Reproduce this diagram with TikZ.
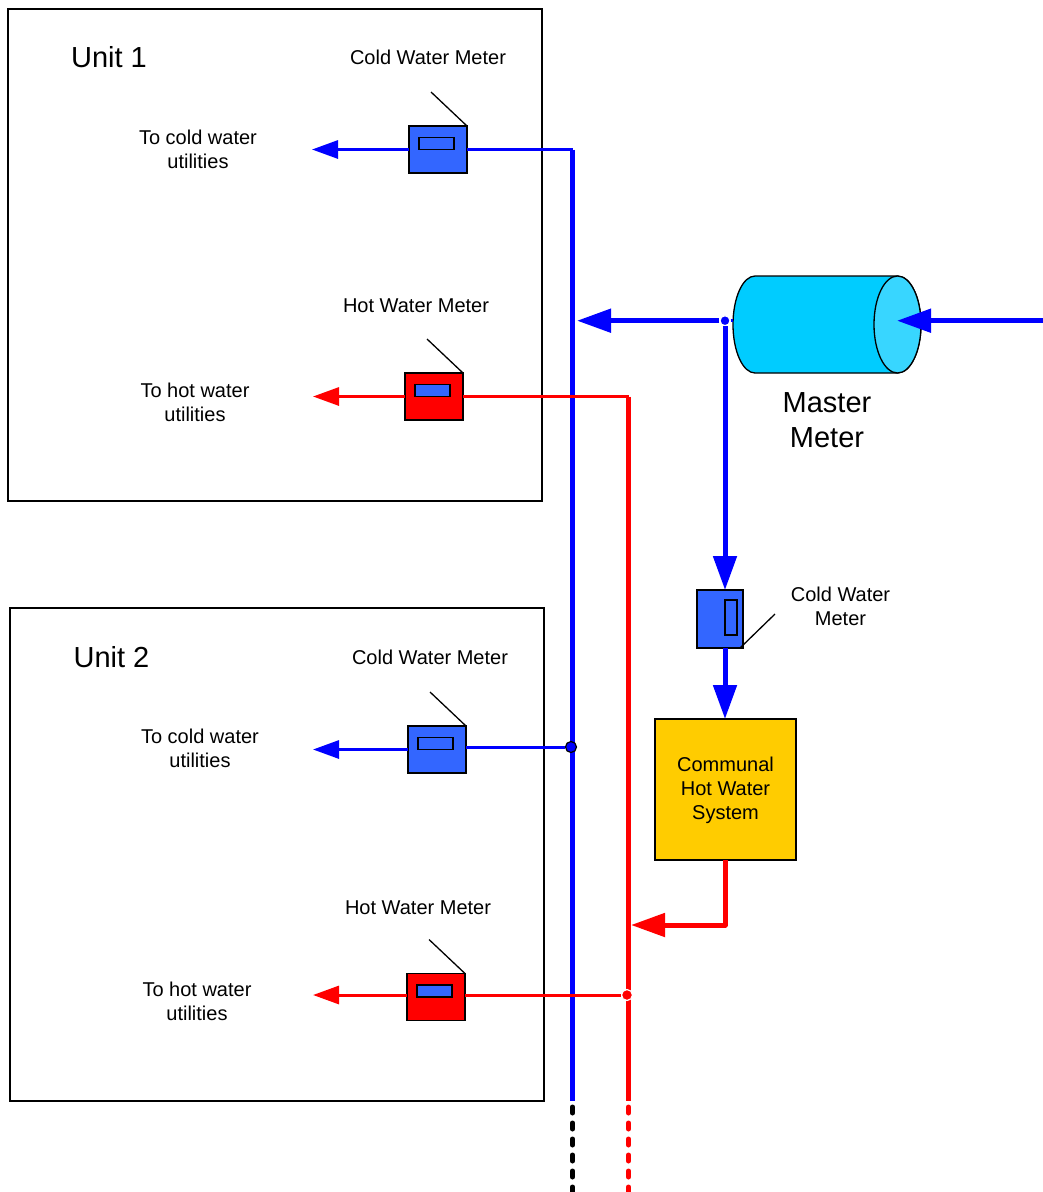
\documentclass[tikz,border=0pt]{standalone}
\usepackage{fontspec}
\setmainfont{Liberation Sans}
\usetikzlibrary{arrows.meta,shapes.geometric}
\definecolor{coldline}{HTML}{0000FF}
\definecolor{hotline}{HTML}{FF0000}
\definecolor{meterblue}{HTML}{3366FF}
\definecolor{mastercyan}{HTML}{00CCFF}
\definecolor{masterend}{HTML}{38D6FF}
\definecolor{sysyellow}{HTML}{FFCC00}
\tikzset{
  unitbox/.style={draw=black, line width=1.3pt, minimum width=534pt, minimum height=#1, outer sep=0pt, inner sep=0pt},
  meter/.style={draw=black, line width=1.3pt, minimum width=58pt, minimum height=47pt, outer sep=0pt, inner sep=0pt},
  dial/.style={draw=black, line width=1.3pt, fill=meterblue, minimum width=35pt, minimum height=12pt, outer sep=0pt, inner sep=0pt},
  lbl/.style={align=center, inner sep=0pt, font=\fontsize{20}{24}\selectfont},
  biglbl/.style={align=center, inner sep=0pt, font=\fontsize{29}{35.5}\selectfont},
  feeler/.style={draw=black, line width=1.3pt},
  % ---- water lines ----
  thincold/.style={draw=coldline, line width=3pt, line join=round},
  thinhot/.style={draw=hotline, line width=3pt, line join=round},
  maincold/.style={draw=coldline, line width=5pt, line join=round},
  mainhot/.style={draw=hotline, line width=5pt, line join=round},
  outcold/.style={thincold, -{Triangle[length=26pt,width=18pt]}},
  outhot/.style={thinhot, -{Triangle[length=26pt,width=18pt]}},
  feedcold/.style={maincold, -{Triangle[length=34pt,width=23pt]}},
  feedhot/.style={mainhot, -{Triangle[length=34pt,width=23pt]}},
  contline/.style={line width=5pt, line cap=round, dash pattern=on 6pt off 10pt},
  tapwhite/.style={circle, fill=#1, draw=white, line width=1.2pt, minimum size=11pt, inner sep=0pt},
  tapblack/.style={circle, fill=coldline, draw=black, line width=1.2pt, minimum size=11pt, inner sep=0pt},
  masterbody/.style={draw=black, line width=1.3pt, fill=mastercyan},
  masterface/.style={ellipse, draw=black, line width=1.3pt, fill=masterend, minimum width=47pt, minimum height=97pt, inner sep=0pt, outer sep=0pt},
}
\begin{document}
\begin{tikzpicture}[x=1pt,y=-1pt]
\useasboundingbox (0,0) rectangle (1043,1192);
  % units
  \node[unitbox=492pt] (unita) at (275,255) {};
  \node[unitbox=493pt] (unitb) at (277,854.5) {};
  \node[biglbl] (unitatxt) at (109,57) {Unit 1};
  \node[biglbl] (unitbtxt) at (111.5,657) {Unit 2};
  % meters in the units
  \foreach \nm/\x/\y/\c in {cwa/438/149.5/meterblue, hwa/434/396.5/hotline, cwb/437/749.5/meterblue, hwb/436/997/hotline}{
    \node[meter, fill=\c] (\nm) at (\x,\y) {};
    \node[dial] (\nm dial) at (\x-1.5,\y-6) {};
    \coordinate (\nm tip) at (\x-7,\y-57.5);
    \draw[feeler] (\nm.north east) -- (\nm tip);
  }
  \node[lbl] (cwatxt) at (428,57) {Cold Water Meter};
  \node[lbl] (hwatxt) at (416,306) {Hot Water Meter};
  \node[lbl] (cwbtxt) at (430,657) {Cold Water Meter};
  \node[lbl] (hwbtxt) at (418,908) {Hot Water Meter};
  \node[lbl] (toca) at (198,149) {To cold water\\utilities};
  \node[lbl] (toha) at (195,402) {To hot water\\utilities};
  \node[lbl] (tocb) at (200,748) {To cold water\\utilities};
  \node[lbl] (tohb) at (197,1001) {To hot water\\utilities};
  % risers
  \coordinate (coldtop) at (572.5,149.5);
  \coordinate (coldbot) at (572.5,1101);
  \coordinate (hottop) at (628.5,396.5);
  \coordinate (hotbot) at (628.5,1101);
  \coordinate (coldend) at (572.5,1107);
  \coordinate (coldout) at (572.5,1192);
  \coordinate (hotend) at (628.5,1107);
  \coordinate (hotout) at (628.5,1192);
  \draw[maincold] (coldtop) -- (coldbot);
  \draw[mainhot] (hottop) -- (hotbot);
  \draw[contline, draw=black] (coldend) -- (coldout);
  \draw[contline, draw=hotline] (hotend) -- (hotout);
  % branches
  \coordinate (outca) at (312,149.5);
  \coordinate (outha) at (313,396.5);
  \coordinate (outcb) at (313,749.5);
  \coordinate (outhb) at (313,995);
  \draw[thincold] (cwa.east) -- (coldtop);
  \draw[outcold] (cwa.west) -- (outca);
  \draw[thinhot] (hwa.east) -- (hottop);
  \draw[outhot] (hwa.west) -- (outha);
  \draw[outcold] (cwb.west) -- (outcb);
  \draw[outhot] (hwb.west |- outhb) -- (outhb);
  \node[tapblack] (tapc) at (571,747) {};
  \node[tapwhite=hotline] (taph) at (627,995) {};
  \draw[thincold] (cwb.east |- tapc) -- (tapc);
  \draw[thinhot] (hwb.east |- taph) -- (taph);
  % master meter
  \draw[masterbody] (755,276) -- (897.5,276) arc (90:-90:23.5pt and 48.5pt) -- (755,373) arc (270:90:22pt and 48.5pt) -- cycle;
  \node[masterface] (master) at (897.5,324.5) {};
  \node[biglbl] (mastertxt) at (827,420) {Master\\Meter};
  \coordinate (masterleft) at (733,320.7);
  \coordinate (inlet) at (1043,320.7);
  \coordinate (inletTip) at (897,320.7);
  \node[tapwhite=coldline, minimum size=10pt] (tapm) at (725,320.7) {};
  \coordinate (coldfeed) at (577,320.7);
  \draw[feedcold] (inlet) -- (inletTip);
  \draw[feedcold] (tapm) -- (coldfeed);
  \draw[thincold] (tapm) -- (masterleft);
  % communal system
  \node[meter, fill=meterblue, minimum width=46pt, minimum height=58pt] (cwc) at (720,619) {};
  \node[dial, minimum width=12pt, minimum height=35pt] (cwcdial) at (731,617.5) {};
  \coordinate (cwctip) at (775,614);
  \draw[feeler] ([xshift=-3pt]cwc.south east) -- (cwctip);
  \node[lbl] (cwctxt) at (840.5,606) {Cold Water\\Meter};
  \node[draw=black, line width=1.3pt, fill=sysyellow, minimum size=141pt, lbl, outer sep=0pt] (sys) at (725.5,789.5) {};
  \node[lbl] (systxt) at (725.5,790) {Communal\\Hot Water\\System};
  \coordinate (sysin) at (725,590);
  \coordinate (sysout) at (725,648);
  \coordinate (systop) at (725,719);
  \coordinate (syshot) at (725,860);
  \coordinate (sysbend) at (725,925);
  \coordinate (hotfeed) at (631,925);
  \draw[feedcold] (tapm) -- (sysin);
  \draw[feedcold] (sysout) -- (systop);
  \draw[feedhot] (syshot) -- (sysbend) -- (hotfeed);
\end{tikzpicture}
\end{document}
